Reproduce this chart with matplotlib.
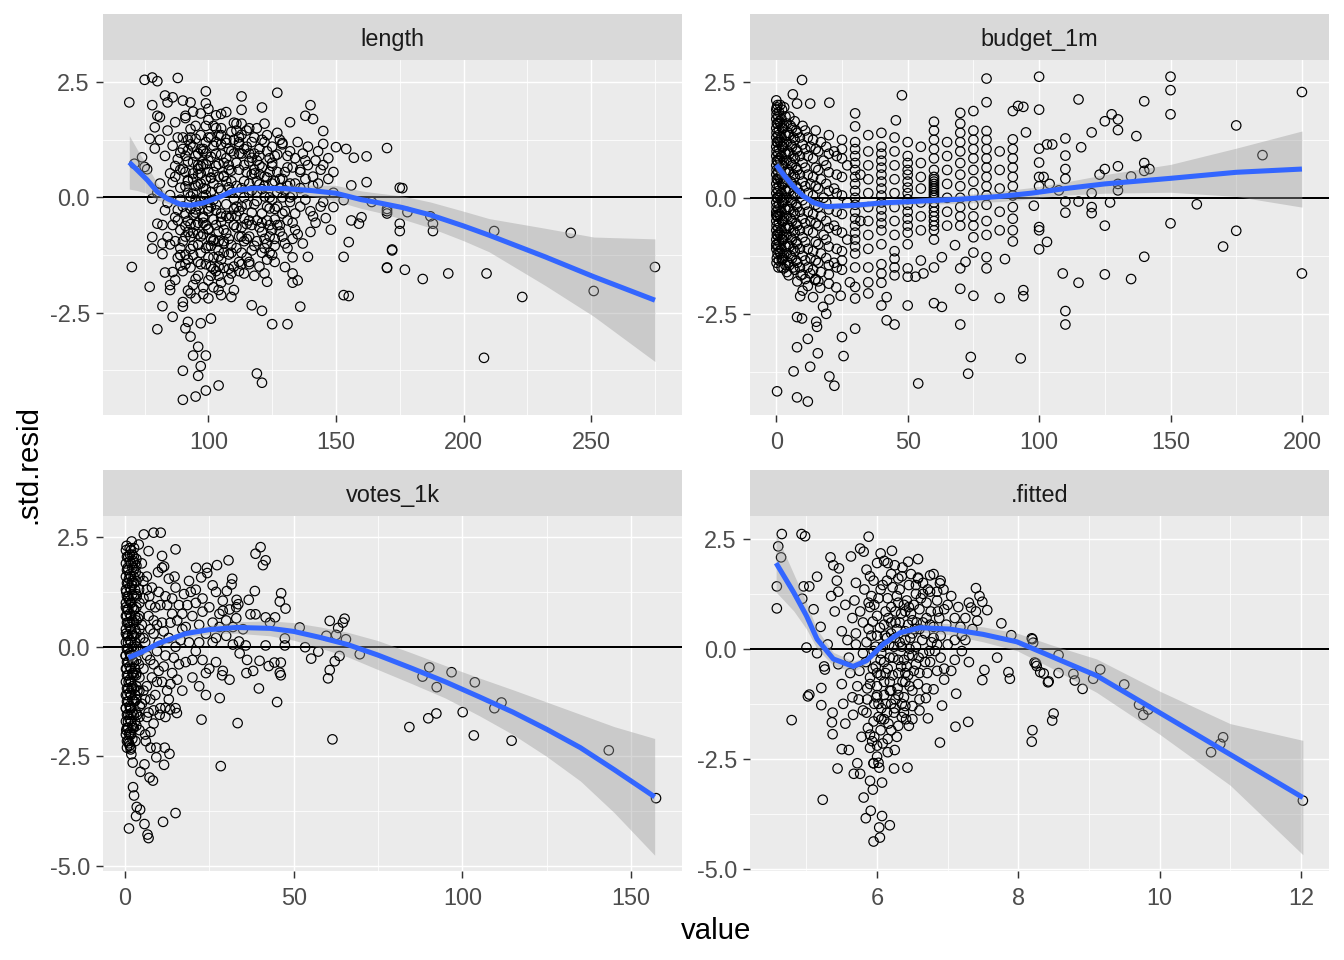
import numpy as np
import matplotlib
matplotlib.use("Agg")
import matplotlib.pyplot as plt

plt.rcParams["font.family"] = ["Liberation Sans", "DejaVu Sans"]
plt.rcParams["axes.unicode_minus"] = False

# ---- points: (value, std.resid) ----
length_pts = [
    (75, 2.55), (78, 2.6), (80, 2.52), (88, 2.59), (69, 2.06), (78, 2.0), (99, 2.3), (113, 2.19), (127, 2.27), (140, 2.0),
    (121, 1.95), (141, 1.7), (145, 1.44), (170, 1.07), (162, 0.89), (157, 0.86), (154, 1.05), (150, 1.09), (162, 0.33), (175, 0.21),
    (70, -1.51), (77, -1.94), (80, -2.86), (90, -3.76), (90, -4.39), (95, -4.32), (99, -4.19), (104, -4.08), (96, -3.87), (97, -3.66),
    (99, -3.43), (94, -3.43), (96, -3.24), (93, -3.02), (91, -2.84), (92, -2.7), (97, -2.73), (101, -2.63), (86, -2.59), (119, -3.82),
    (121, -4.02), (117, -2.34), (121, -2.46), (125, -2.75), (131, -2.75), (136, -2.37), (133, -1.85), (135, -1.8), (139, -1.29), (153, -1.29),
    (155, -0.97), (153, -2.12), (155, -2.14), (170, -1.52), (172, -1.13), (170, -0.35), (175, -0.57), (175, -0.73), (156, -0.5), (159, -0.57),
    (160, -0.43), (153, -0.06), (156, 0.26), (164, -0.1), (149, -0.21), (141, -0.41), (130, -1.51), (133, -1.65), (123, -1.83), (122, -1.65),
    (116, -1.4), (110, -2.01), (109, -2.16), (105, -2.12), (104, -2.01), (100, -2.19), (95, -2.19), (93, -2.08), (90, -2.27), (90, -2.37),
    (82, -2.36), (85, -2.01), (85, -1.9), (83, -1.63), (82, -1.23), (78, -1.11), (78, -0.86), (80, -0.57), (78, -0.03), (83, -0.28),
    (71, 0.73), (74, 0.87), (75, 0.66), (76, 0.61), (79, 1.52), (77, 1.27), (79, 1.06), (80, 1.77), (81, 1.74), (83, 2.21),
    (84, 2.06), (86, 2.17), (90, 2.1), (93, 2.06), (91, 1.77), (99, 2.04), (100, 1.92), (105, 1.81), (113, 1.9), (132, 1.63),
    (138, 1.77), (145, 1.16), (176, 0.2), (170, -0.25), (170, -0.3), (178, -0.32), (188, -0.57), (188, -0.73), (187, -0.41), (172, -1.15),
    (170, -1.53), (177, -1.57), (184, -1.77), (194, -1.65), (209, -1.65), (212, -0.73), (223, -2.16), (208, -3.48), (242, -0.77), (251, -2.03),
    (275, -1.51),
    (84, 1.45), (86, 1.12), (88, 0.83), (85, 0.52), (89, 0.21), (84, -0.12), (87, -0.43), (89, -0.71), (85, -1.02), (88, -1.31),
    (86, -1.62), (87, 1.63), (89, 0.97), (86, 0.33), (88, -0.27), (84, -0.86), (89, -1.48), (87, -1.79), (90, 1.3), (90, -0.95),
    (85, 0.05), (87, 0.68), (89, -0.05), (86, -0.6), (81, 0.3), (82, -0.6), (83, 0.9), (81, 1.25), (82, -1.0), (80, 0.1),
    (91, 1.72), (93, 1.48), (95, 1.27), (92, 1.02), (94, 0.76), (96, 0.49), (91, 0.24), (93, 0.02), (95, -0.26), (92, -0.51),
    (94, -0.77), (96, -1.03), (91, -1.24), (93, -1.52), (95, -1.77), (92, -2.02), (94, 1.86), (96, 0.62), (91, -0.62), (93, -1.12),
    (95, 0.9), (92, 0.38), (94, -0.38), (96, -1.4), (93, 1.15), (95, -0.05), (91, 0.55), (94, -1.9),
    (97, 1.82), (99, 1.55), (101, 1.3), (98, 1.05), (100, 0.8), (102, 0.55), (97, 0.3), (99, 0.05), (101, -0.2), (98, -0.45),
    (100, -0.7), (102, -0.95), (97, -1.2), (99, -1.45), (101, -1.7), (98, -1.95), (100, 1.68), (102, 1.12), (97, 0.68), (99, -0.6),
    (101, -1.05), (98, 0.2), (100, -0.1), (102, -1.55), (99, 0.95), (101, 0.42), (97, -0.85), (100, -1.3),
    (103, 1.78), (105, 1.5), (107, 1.26), (109, 1.0), (104, 0.72), (106, 0.47), (108, 0.22), (110, -0.03), (103, -0.28), (105, -0.53),
    (107, -0.78), (109, -1.03), (104, -1.28), (106, -1.53), (108, -1.78), (110, 1.62), (103, 0.95), (105, 0.15), (107, -0.4), (109, -1.2),
    (104, 1.35), (106, -0.95), (108, 0.6), (110, -0.6), (103, -1.6), (107, 1.85), (109, 0.35), (105, -1.85),
    (111, 1.6), (113, 1.36), (115, 1.1), (117, 0.86), (112, 0.6), (114, 0.35), (116, 0.1), (118, -0.15), (111, -0.4), (113, -0.65),
    (115, -0.9), (117, -1.15), (112, -1.4), (114, -1.65), (116, 1.5), (118, 0.95), (111, 0.25), (113, -0.2), (115, -1.3), (117, 0.5),
    (112, 1.15), (114, -0.95), (116, -0.5), (118, -1.7),
    (119, 1.5), (121, 1.25), (123, 1.0), (125, 0.75), (120, 0.5), (122, 0.25), (124, 0.0), (126, -0.25), (119, -0.5), (121, -0.75),
    (123, -1.0), (125, -1.25), (120, -1.5), (122, 1.6), (124, 0.55), (126, 0.9), (119, 0.1), (121, -0.35), (123, -1.35), (125, 0.3),
    (120, 1.05), (122, -0.9), (124, -0.6), (126, -1.05),
    (127, 1.4), (129, 1.15), (131, 0.9), (133, 0.65), (128, 0.4), (130, 0.15), (132, -0.1), (134, -0.35), (127, -0.6), (129, -0.85),
    (131, -1.1), (133, -1.3), (128, 1.25), (130, 0.55), (132, 0.3), (134, 0.85), (127, -0.2), (129, 0.0), (131, -0.5), (133, -0.9),
    (135, 1.2), (137, 0.95), (139, 0.7), (141, 0.45), (136, 0.2), (138, -0.05), (140, -0.3), (142, -0.55), (135, -0.8), (137, -1.0),
    (139, 1.1), (141, 0.25), (136, 0.6), (138, 0.4), (140, -0.75), (142, 0.8),
    (143, 1.0), (145, 0.7), (147, 0.4), (149, 0.1), (144, -0.2), (146, -0.45), (148, -0.7), (143, 0.3), (145, -0.1), (147, 0.85),
    (149, 0.55), (144, 0.6),
    (88, 1.3), (90, 1.05), (92, 0.78), (94, 0.52), (96, 0.28), (98, 0.02), (100, -0.24), (102, -0.48), (104, -0.74), (106, -1.0),
    (108, -1.24), (110, -1.5), (89, -1.1), (91, -0.85), (93, -0.58), (95, -0.33), (97, -0.08), (99, 0.18), (101, 0.43), (103, 0.68),
    (105, 0.93), (107, 1.18), (109, 1.42), (112, 1.3), (114, 1.05), (116, 0.78), (118, 0.52), (120, 0.28), (122, 0.02), (124, -0.24),
    (126, -0.48), (128, -0.74), (130, -1.0), (111, -1.1), (113, -0.85), (115, -0.58), (117, -0.33), (119, -0.08), (121, 0.18), (123, 0.43),
    (125, 0.68), (127, 0.93), (129, 1.18), (88, -0.5), (90, -0.2), (92, 0.1), (94, 0.4), (96, 0.7), (98, 1.0), (100, 1.3),
    (102, 1.55), (104, -1.5), (106, -1.2), (108, -0.9), (110, -0.6), (112, -0.3), (114, 0.0), (116, 0.3), (118, 0.6), (120, 0.9),
    (122, 1.2), (90, -1.6), (92, -1.35), (94, -1.05), (96, -0.8), (98, -0.55), (100, -0.3), (102, -0.05), (104, 0.2), (106, 0.45),
    (108, 0.7), (110, 0.95), (112, 1.2), (124, -1.2), (126, -0.9), (128, -0.6), (130, -0.3), (132, 0.0), (134, 0.3), (136, 0.55),
    (138, 0.8), (132, 1.0), (128, 0.2), (134, -0.7), (136, -0.2), (87, 0.45), (89, 0.6), (91, 0.9), (93, 1.3), (95, 1.55),
    (97, 1.05), (99, 0.72), (101, 0.88), (103, 1.2), (105, 1.35), (107, 0.85), (109, 0.58), (111, 0.75), (113, 0.95), (115, 1.45),
    (117, 1.2), (119, 0.8), (121, 0.65), (123, 1.35), (125, 1.1), (87, -0.95), (89, -1.25), (91, -1.45), (93, -0.25), (95, -0.6),
    (97, -1.45), (99, -1.1), (101, -0.9), (103, -0.6), (105, -0.35), (107, -0.15), (109, -0.4), (111, -0.2), (113, 0.2), (115, -0.15),
    (117, -0.6), (119, -0.95), (121, -1.2), (123, -0.5), (125, -0.05), (127, 0.55), (129, 0.4), (131, 0.25), (133, 0.05),
    (96, -1.7), (100, -1.8), (104, -1.7), (108, -1.55), (112, -1.6), (116, -1.45), (98, -2.1), (102, -1.95),
    (90, 0.62), (92, 0.35), (94, 0.08), (96, -0.18), (98, -0.42), (100, -0.68), (102, -0.92), (104, -1.15), (91, -0.35), (93, -0.85),
    (95, 0.25), (97, 0.52), (99, 0.38), (101, 0.12), (103, -0.15), (105, -0.42), (107, 0.35), (109, 0.12), (111, -0.65), (113, -1.2),
    (115, 0.55), (117, 0.15), (119, 0.35), (121, -0.55), (123, -0.2), (125, -0.7), (127, 0.1), (129, -0.35), (131, 0.65), (133, -0.55),
    (92, 1.25), (94, 1.1), (96, 0.95), (98, 0.72), (100, 0.55), (102, 0.3), (104, 0.45), (106, 0.75), (108, 1.05), (110, 1.25),
    (112, 0.95), (114, 0.7), (116, 0.95), (118, 1.3), (120, 0.7), (122, 0.45), (124, 0.85), (126, 0.35),
    (92, -0.75), (94, -1.25), (96, -0.55), (98, -0.8), (100, -1.05), (102, -1.3), (104, -0.95), (106, -0.7), (108, -0.45), (110, -0.25),
    (112, -0.85), (114, -0.45), (116, -0.85), (118, -1.05), (120, -0.65), (122, -1.1), (124, -0.85), (126, -1.4),
    (97, 1.35), (99, 1.2), (103, 1.5), (105, 1.15), (111, 1.45), (113, 1.6), (101, -1.5), (105, -1.35), (109, -1.65), (113, -1.45),
]

budget_pts = [
    (9.8, 2.54), (6.3, 2.23), (7.9, 2.03), (12.9, 2.03), (20.2, 2.05), (47.8, 2.21), (30, 1.82), (45.5, 1.67), (80, 2.57), (80, 2.06),
    (75, 1.87), (70, 1.83), (100, 2.61), (100, 1.9), (90, 1.87), (92, 1.98), (94, 1.96), (95, 1.41),
    (0.3, -4.17), (7.9, -4.3), (12, -4.39), (6.6, -3.74), (12.9, -3.64), (7.9, -3.22), (15.8, -3.35), (12, -3.04), (20.2, -3.85), (22.1, -4.05),
    (25.6, -3.41), (25, -3.0), (30, -2.82), (7.9, -2.57), (9.8, -2.6), (15.5, -2.78), (15.2, -2.67), (19, -2.5), (17.8, -2.35), (42, -2.64),
    (45, -2.73), (54, -4.0), (40, -2.32), (42, -2.14), (50, -2.32), (60, -2.27), (63, -2.35), (70, -2.73), (73, -3.79), (74, -3.43),
    (75, -2.11), (70, -1.96), (85, -2.16), (94, -1.99), (94, -2.12), (93, -3.46), (87, -1.32), (80, -1.28), (80, -1.52), (75, -1.18),
    (72, -1.38), (70, -1.52), (68, -1.02), (63, -1.28), (60, -1.5), (56, -1.63), (53, -1.7), (50, -1.52), (50, -1.7), (55, -1.35),
    (45, -1.67), (45, -1.5), (45, -1.31), (45, -1.15), (40, -1.83), (40, -1.63), (40, -1.43), (35, -2.06), (35, -1.82), (35, -1.5),
    (30, -2.17), (30, -1.92), (28, -1.82), (24.5, -2.11), (22.8, -1.93), (20.2, -2.19), (16.7, -1.94), (14, -2.14), (9.1, -2.12), (9.3, -1.67),
    (12.9, -1.63), (14.8, -1.77), (4.7, -1.67), (2.8, -1.52), (2.1, -1.34), (0, -1.02), (0, -0.37),
    (115, 2.12), (140, 2.08), (150, 2.61), (150, 2.32), (150, 1.8), (127.6, 1.8), (125, 1.65), (130, 1.69), (130, 1.46), (120, 1.41),
    (137, 1.33), (110, 1.28), (103, 1.15), (105, 1.15), (116, 1.09), (100, 1.06), (110, 0.91), (100, 0.76), (110, 0.62), (130, 0.68),
    (140, 0.75), (142, 0.62), (140, 0.58), (125, 0.62), (123, 0.5), (135, 0.46), (130, 0.3), (130, 0.16), (120, 0.1), (110, 0.41),
    (101.7, 0.45), (100, 0.45), (104, 0.3), (100, 0.25), (107.5, 0.16), (98, -0.17), (110, -0.08), (115, -0.08), (110, -0.32), (120, -0.2),
    (120, -0.33), (127, -0.1), (160, -0.14), (100, -0.63), (100, -0.7), (103, -0.95), (100, -1.11), (125, -0.6), (150, -0.55), (175, -0.71),
    (170, -1.05), (175, 1.56), (185, 0.92), (200, 2.28), (200, -1.63), (140, -1.27), (109, -1.63), (115, -1.83), (125, -1.65), (135, -1.75),
    (110, -2.44), (110, -2.73),
    (0, 2.1), (0, 1.9), (0, 1.7), (0, 1.5), (0, 1.3), (0, 1.1), (0, 0.9), (0, 0.7), (0, 0.5), (0, 0.3),
    (0, 0.1), (0, -0.1), (0, -0.3), (0, -0.5), (0, -0.7), (0, -0.9), (0, -1.1),
    (0.5, 2.0), (0.5, 1.6), (0.5, 1.2), (0.5, 0.8), (0.5, 0.4), (0.5, 0.0), (0.5, -0.4), (0.5, -0.8), (0.5, -1.2),
    (1, 1.85), (1, 1.45), (1, 1.05), (1, 0.65), (1, 0.25), (1, -0.15), (1, -0.55), (1, -0.95), (1, -1.35),
    (2, 1.7), (2, 1.3), (2, 0.9), (2, 0.5), (2, 0.1), (2, -0.3), (2, -0.7), (2, -1.1), (2, -1.5),
    (3, 1.95), (3, 1.55), (3, 1.15), (3, 0.75), (3, 0.35), (3, -0.05), (3, -0.45), (3, -0.85), (3, -1.25),
    (4, 1.6), (4, 1.2), (4, 0.8), (4, 0.4), (4, 0.0), (4, -0.4), (4, -0.8), (4, -1.2), (4, -1.6),
    (5, 1.75), (5, 1.35), (5, 0.95), (5, 0.55), (5, 0.15), (5, -0.25), (5, -0.65), (5, -1.05), (5, -1.45),
    (6, 1.5), (6, 1.1), (6, 0.7), (6, 0.3), (6, -0.1), (6, -0.5), (6, -0.9), (6, -1.3),
    (7, 1.65), (7, 1.25), (7, 0.85), (7, 0.45), (7, 0.05), (7, -0.35), (7, -0.75), (7, -1.15), (7, -1.55),
    (8, 1.4), (8, 1.0), (8, 0.6), (8, 0.2), (8, -0.2), (8, -0.6), (8, -1.0), (8, -1.4), (8, -1.8),
    (10, 1.55), (10, 1.15), (10, 0.75), (10, 0.35), (10, -0.05), (10, -0.45), (10, -0.85), (10, -1.25), (10, -1.65), (10, -2.0),
    (12, 1.3), (12, 0.9), (12, 0.5), (12, 0.1), (12, -0.3), (12, -0.7), (12, -1.1), (12, -1.5), (12, -1.9),
    (13, 1.1), (13, 0.3), (13, -0.5), (13, -1.3),
    (15, 1.45), (15, 1.05), (15, 0.65), (15, 0.25), (15, -0.15), (15, -0.55), (15, -0.95), (15, -1.35), (15, -1.75),
    (17, 1.2), (17, 0.4), (17, -0.4), (17, -1.2), (17, -1.6), (18, 0.8), (18, 0.0), (18, -0.8),
    (20, 1.35), (20, 0.95), (20, 0.55), (20, 0.15), (20, -0.25), (20, -0.65), (20, -1.05), (20, -1.45), (20, -1.85),
    (22, 1.0), (22, 0.2), (22, -0.6), (22, -1.4),
    (25, 1.25), (25, 0.85), (25, 0.45), (25, 0.05), (25, -0.35), (25, -0.75), (25, -1.15), (25, -1.55),
    (27, 0.7), (27, -0.1), (27, -0.9), (32, 0.5), (32, -0.5),
    (30, 1.54), (30, 1.2), (30, 0.9), (30, 0.6), (30, 0.3), (30, 0.0), (30, -0.3), (30, -0.6), (30, -0.9), (30, -1.2), (30, -1.5),
    (35, 1.35), (35, 1.0), (35, 0.7), (35, 0.4), (35, 0.1), (35, -0.2), (35, -0.5), (35, -0.8), (35, -1.1),
    (40, 1.4), (40, 1.1), (40, 0.8), (40, 0.5), (40, 0.2), (40, -0.1), (40, -0.4), (40, -0.7), (40, -1.0),
    (45, 1.3), (45, 1.0), (45, 0.7), (45, 0.4), (45, 0.1), (45, -0.2), (45, -0.5), (45, -0.8),
    (50, 1.2), (50, 0.9), (50, 0.6), (50, 0.35), (50, 0.1), (50, -0.15), (50, -0.45), (50, -0.75), (50, -1.0),
    (55, 1.1), (55, 0.75), (55, 0.45), (55, 0.2), (55, -0.1), (55, -0.4), (55, -0.7),
    (60, 1.64), (60, 1.45), (60, 1.25), (60, 1.05), (60, 0.85), (60, 0.6), (60, 0.45), (60, 0.35), (60, 0.25), (60, 0.15),
    (60, 0.05), (60, -0.1), (60, -0.3), (60, -0.5), (60, -0.7), (60, -0.9),
    (65, 1.2), (65, 0.9), (65, 0.6), (65, 0.3), (65, 0.0), (65, -0.3), (65, -0.6),
    (70, 1.6), (70, 1.4), (70, 1.2), (70, 1.0), (70, 0.75), (70, 0.5), (70, 0.25), (70, 0.0), (70, -0.2), (70, -0.4), (70, -0.6),
    (75, 1.45), (75, 1.25), (75, 1.05), (75, 0.85), (75, 0.6), (75, 0.35), (75, 0.1), (75, -0.15), (75, -0.4), (75, -0.6), (75, -0.85),
    (80, 1.44), (80, 1.25), (80, 1.05), (80, 0.85), (80, 0.65), (80, 0.45), (80, 0.25), (80, 0.05), (80, -0.15), (80, -0.5), (80, -0.8),
    (85, 1.0), (85, 0.6), (85, 0.2), (85, -0.3), (85, -0.7),
    (90, 1.26), (90, 1.05), (90, 0.85), (90, 0.65), (90, 0.45), (90, 0.25), (90, 0.05), (90, -0.2), (90, -0.45), (90, -0.7), (90, -0.94),
    (0.2, 1.95), (0.2, 1.6), (0.2, 1.2), (0.2, 0.8), (0.2, 0.4), (0.2, 0.0), (0.2, -0.4), (0.2, -0.8), (0.2, -1.3),
    (0.8, 1.75), (0.8, 1.35), (0.8, 0.95), (0.8, 0.55), (0.8, 0.15), (0.8, -0.25), (0.8, -0.65), (0.8, -1.05), (0.8, -1.5),
    (1.5, 2.0), (1.5, 1.6), (1.5, 1.2), (1.5, 0.8), (1.5, 0.4), (1.5, 0.0), (1.5, -0.4), (1.5, -0.8), (1.5, -1.2),
    (2.5, 1.5), (2.5, 1.1), (2.5, 0.7), (2.5, 0.3), (2.5, -0.1), (2.5, -0.5), (2.5, -0.9), (2.5, -1.3),
    (3.5, 1.75), (3.5, 1.35), (3.5, 0.95), (3.5, 0.55), (3.5, 0.15), (3.5, -0.25), (3.5, -0.65), (3.5, -1.05), (3.5, -1.45),
    (4.5, 1.4), (4.5, 1.0), (4.5, 0.6), (4.5, 0.2), (4.5, -0.2), (4.5, -0.6), (4.5, -1.0), (4.5, -1.4),
    (6.5, 1.3), (6.5, 0.9), (6.5, 0.5), (6.5, 0.1), (6.5, -0.3), (6.5, -0.7), (6.5, -1.1), (6.5, -1.5),
    (9, 1.3), (9, 0.9), (9, 0.5), (9, 0.1), (9, -0.3), (9, -0.7), (9, -1.1), (9, -1.5),
    (11, 1.45), (11, 1.05), (11, 0.65), (11, 0.25), (11, -0.15), (11, -0.55), (11, -0.95), (11, -1.35), (11, -1.75),
    (14, 1.25), (14, 0.85), (14, 0.45), (14, 0.05), (14, -0.35), (14, -0.75), (14, -1.15), (14, -1.55),
    (16, 1.0), (16, 0.6), (16, 0.2), (16, -0.2), (16, -0.6), (16, -1.0), (16, -1.4), (16, -1.8),
    (19, 1.1), (19, 0.7), (19, 0.3), (19, -0.1), (19, -0.5), (19, -0.9), (19, -1.3),
    (23, 0.9), (23, 0.5), (23, 0.1), (23, -0.3), (23, -0.7), (23, -1.1), (23, -1.5),
    (30, 1.05), (30, 0.75), (30, 0.45), (30, 0.15), (30, -0.15), (30, -0.45), (30, -0.75), (30, -1.05),
    (40, 0.95), (40, 0.65), (40, 0.35), (40, 0.05), (40, -0.25), (40, -0.55),
    (50, 0.75), (50, 0.5), (50, 0.22), (50, -0.03), (50, -0.3), (50, -0.6),
    (60, 0.4), (60, 0.3), (60, 0.2), (60, 0.1), (60, 0.0), (60, -0.2), (60, -0.4), (60, -0.6),
    (20, -1.65), (25, -1.35), (25, 1.05),
    (0.1, 1.8), (0.1, 1.4), (0.1, 1.0), (0.1, 0.6), (0.1, 0.2), (0.1, -0.2), (0.1, -0.6), (0.1, -1.0), (0.1, -1.4),
    (1.2, 1.65), (1.2, 1.25), (1.2, 0.85), (1.2, 0.45), (1.2, 0.05), (1.2, -0.35), (1.2, -0.75), (1.2, -1.15),
    (2.2, 1.9), (2.2, 1.5), (2.2, 1.1), (2.2, 0.7), (2.2, 0.3), (2.2, -0.1), (2.2, -0.5), (2.2, -0.9), (2.2, -1.3),
    (5.5, 1.55), (5.5, 1.15), (5.5, 0.75), (5.5, 0.35), (5.5, -0.05), (5.5, -0.45), (5.5, -0.85), (5.5, -1.25),
    (7.5, 1.45), (7.5, 1.05), (7.5, 0.65), (7.5, 0.25), (7.5, -0.15), (7.5, -0.55), (7.5, -0.95), (7.5, -1.35),
]

votes_pts = [
    (5.6, 2.56), (8.5, 2.6), (10.6, 2.6), (4.1, 2.33), (7, 2.18), (15, 2.22), (11, 2.07), (11.6, 1.83), (14.7, 1.6), (21.1, 1.8),
    (24.3, 1.8), (27.3, 1.86), (30.7, 1.97), (24.4, 1.68), (22.6, 1.58), (40.2, 2.27), (38.7, 2.12), (41.7, 1.97), (40.9, 1.86), (31.8, 1.55),
    (31.6, 1.42), (30.2, 1.27), (38.5, 1.27), (36.7, 1.07), (33.1, 1.07), (33.6, 0.97), (46.3, 1.22), (45.9, 1.03), (47.6, 0.87), (38.7, 0.74),
    (37.2, 0.74), (41.7, 0.67), (44.5, 0.67), (43, 0.55), (29, 0.82), (60.7, 0.59), (65.1, 0.64), (64.6, 0.55), (63.2, 0.43), (51.8, 0.44),
    (59.7, 0.25), (62.6, 0.27), (65.5, 0.17), (47.4, 0.19), (47.4, 0.03), (53.4, -0.01), (57.3, -0.11), (55.2, -0.27), (69.6, -0.17), (63.6, -0.21),
    (62.2, -0.33), (60.7, -0.53), (60.2, -0.72), (41.7, 0.03), (35.8, 0.03), (33.8, 0.12), (36.2, -0.3), (39.9, -0.32), (42.6, -0.44), (44.3, -0.36),
    (46.2, -0.36), (45.9, -0.59), (46.2, -0.65), (38, -0.55), (36, -0.6), (28.8, -0.65), (39.7, -0.95), (45.1, -1.26), (28.1, -1.17), (22.7, -1.66),
    (33.4, -1.74), (28.4, -2.72), (61.5, -2.11), (13.2, -2.44), (11.6, -2.69), (11.8, -2.3), (9.3, -2.52), (8.3, -3.05), (7.3, -2.98), (5.8, -2.68),
    (4.6, -2.85), (2.3, -2.64), (1.7, -2.34), (2.4, -3.2), (2.7, -3.39), (3.5, -3.65), (4.5, -3.71), (3.3, -3.86), (15, -3.79), (11.3, -3.99),
    (1.2, -4.14), (5.8, -4.04), (6.7, -4.28), (7.0, -4.36), (7.6, -2.3), (6.2, -2.15), (7.6, -1.94), (9.3, -2.3), (10.3, -1.55), (12, -1.39),
    (15.4, -1.51), (13.4, -1.43),
    (90.2, -0.47), (88.2, -0.68), (96.8, -0.58), (92.4, -0.92), (103.7, -0.81), (111.6, -1.27), (109.5, -1.4), (100.1, -1.49), (92.3, -1.52), (89.9, -1.63),
    (84.3, -1.83), (103.4, -2.02), (114.6, -2.14), (143.4, -2.36), (157.4, -3.45),
    (0.5, 2.3), (1.5, 2.1), (2.5, 1.95), (0.8, 1.8), (3.2, 1.7), (1.2, 1.55), (2.1, 1.4), (0.4, 1.25), (3.5, 1.15), (1.8, 1.0),
    (2.8, 0.85), (0.6, 0.7), (1.4, 0.55), (3.0, 0.4), (2.2, 0.25), (0.9, 0.1), (3.8, -0.05), (1.6, -0.2), (2.6, -0.35), (0.5, -0.5),
    (3.3, -0.65), (1.1, -0.8), (2.0, -0.95), (0.7, -1.1), (2.9, -1.25), (1.5, -1.4), (3.6, -1.55), (0.9, -1.7), (2.3, -1.85), (1.3, -2.0),
    (3.1, -2.15), (0.6, -2.3), (1.9, -2.45), (2.7, 2.25), (1.0, 1.1), (3.9, 0.65), (0.3, 0.3), (2.4, -0.6), (3.7, -1.0), (1.7, -1.55),
    (0.4, -1.9), (2.6, 1.6), (4.2, 1.3), (4.5, 0.2), (4.1, -0.4), (4.4, -1.35), (0.2, -0.2), (0.3, 0.9), (0.3, -1.4), (1.2, -2.2),
    (2.0, 2.4), (3.4, 2.0),
    (5, 1.9), (6.5, 1.6), (8, 1.35), (5.5, 1.1), (9, 0.9), (7, 0.7), (5, 0.5), (8.5, 0.3), (6, 0.1), (9.5, -0.1),
    (7.5, -0.3), (5.5, -0.5), (8, -0.7), (6.5, -0.9), (9, -1.1), (5, -1.3), (7, -1.5), (8.5, -1.75), (6, -2.0), (9.8, 1.7),
    (7.2, 1.15), (6, -1.2), (9.5, 0.5),
    (11, 1.8), (13, 1.55), (15, 1.35), (12, 1.15), (16, 0.95), (14, 0.75), (11, 0.55), (17, 0.4), (13, 0.2), (15, 0.0),
    (12, -0.2), (16, -0.4), (14, -0.6), (11, -0.8), (17, -1.0), (13, -1.2), (15, -1.4), (12, -1.6), (10.5, 0.95), (17.5, 1.2),
    (14.5, -0.25), (10.5, -1.4),
    (19, 1.5), (21, 1.3), (23, 1.1), (25, 0.9), (20, 0.7), (22, 0.5), (24, 0.3), (19, 0.1), (21, -0.1), (23, -0.3),
    (25, -0.5), (20, -0.7), (22, -0.9), (24, -1.1), (26, 1.4), (18.5, 0.95), (26, 0.1), (21, 1.0),
    (27, 1.25), (29, 1.05), (31, 0.85), (33, 0.65), (28, 0.45), (30, 0.25), (32, 0.05), (34, -0.15), (27, -0.35), (29, -0.55),
    (31, -0.75), (33, 0.9), (35, 0.4), (28, 0.75),
    (0.3, 2.2), (0.3, 1.9), (0.3, 1.6), (0.3, 1.3), (0.3, 1.0), (0.3, 0.7), (0.3, 0.4), (0.3, 0.1), (0.3, -0.2), (0.3, -0.5),
    (0.3, -0.8), (0.3, -1.1), (0.3, -1.4), (0.3, -1.7), (0.3, -2.0),
    (1.0, 2.05), (1.0, 1.75), (1.0, 1.45), (1.0, 1.15), (1.0, 0.85), (1.0, 0.55), (1.0, 0.25), (1.0, -0.05), (1.0, -0.35), (1.0, -0.65),
    (1.0, -0.95), (1.0, -1.25), (1.0, -1.55), (1.0, -1.85), (1.0, -2.15),
    (1.8, 2.2), (1.8, 1.9), (1.8, 1.6), (1.8, 1.3), (1.8, 1.0), (1.8, 0.7), (1.8, 0.4), (1.8, 0.1), (1.8, -0.2), (1.8, -0.5),
    (1.8, -0.8), (1.8, -1.1), (1.8, -1.4), (1.8, -1.7), (1.8, -2.0), (1.8, -2.3),
    (2.6, 2.05), (2.6, 1.75), (2.6, 1.45), (2.6, 1.15), (2.6, 0.85), (2.6, 0.55), (2.6, 0.25), (2.6, -0.05), (2.6, -0.35), (2.6, -0.65),
    (2.6, -0.95), (2.6, -1.25), (2.6, -1.55), (2.6, -1.85),
    (3.4, 1.85), (3.4, 1.5), (3.4, 1.2), (3.4, 0.9), (3.4, 0.6), (3.4, 0.3), (3.4, 0.0), (3.4, -0.3), (3.4, -0.6), (3.4, -0.9),
    (3.4, -1.2), (3.4, -1.5), (3.4, -1.8),
    (4.3, 1.6), (4.3, 1.0), (4.3, 0.7), (4.3, 0.4), (4.3, -0.1), (4.3, -0.7), (4.3, -1.0), (4.3, -1.6), (4.3, -1.9),
    (5.5, 1.5), (6.5, 1.3), (7.5, 0.95), (8.5, 0.6), (5.5, 0.2), (6.5, -0.2), (7.5, 0.4), (8.5, -0.4), (9.5, -0.8), (5.5, -1.0),
    (6.5, -1.6), (7.5, -1.2), (8.5, -1.45), (10, 1.25), (10, 0.1), (10, -0.55), (11.5, 0.35), (11.5, -0.45), (12.5, 0.95), (12.5, -1.0),
    (13.5, 0.55), (13.5, -0.85), (14, 1.1), (15.5, 0.6), (15.5, -0.75), (16.5, 0.15), (17, 0.75), (18, -0.35), (18, 0.45), (19.5, 1.25),
    (20, -0.3), (22, 0.1), (23, 0.8), (24, -0.6), (26, 0.55), (30, 0.6), (32, 0.45), (27, 0.2),
    (0.6, 2.05), (0.6, 1.75), (0.6, 1.45), (0.6, 1.15), (0.6, 0.85), (0.6, 0.55), (0.6, 0.25), (0.6, -0.05), (0.6, -0.35), (0.6, -0.65),
    (0.6, -0.95), (0.6, -1.25), (0.6, -1.55), (0.6, -1.85), (0.6, -2.15),
    (1.4, 2.25), (1.4, 1.95), (1.4, 1.65), (1.4, 1.35), (1.4, 1.05), (1.4, 0.75), (1.4, 0.45), (1.4, 0.15), (1.4, -0.15), (1.4, -0.45),
    (1.4, -0.75), (1.4, -1.05), (1.4, -1.35), (1.4, -1.65), (1.4, -1.95), (1.4, -2.25),
    (2.2, 2.1), (2.2, 1.8), (2.2, 1.5), (2.2, 1.2), (2.2, 0.9), (2.2, 0.6), (2.2, 0.3), (2.2, 0.0), (2.2, -0.3), (2.2, -0.6),
    (2.2, -0.9), (2.2, -1.2), (2.2, -1.5), (2.2, -1.8), (2.2, -2.1),
    (3.0, 1.9), (3.0, 1.3), (3.0, 0.7), (3.0, 0.1), (3.0, -0.5), (3.0, -1.1), (3.0, -1.7),
]

fitted_pts = [
    (4.65, 2.61), (4.93, 2.61), (4.98, 2.56), (4.6, 2.33), (4.64, 2.08), (4.58, 1.42), (4.58, 0.92), (4.79, -1.62), (5.0, 0.03), (4.96, 1.42),
    (5.04, 1.42), (4.94, 1.14), (5.15, 1.64), (5.34, 2.08), (5.38, 1.9), (5.46, 1.83), (5.43, 1.55), (5.63, 2.1), (5.88, 2.55), (5.76, 2.28),
    (5.81, 2.21), (6.21, 2.23), (6.05, 2.17), (6.44, 1.98), (6.58, 2.04), (6.58, 1.62), (6.75, 1.67), (6.89, 1.49), (7.4, 1.38), (7.45, 1.2),
    (7.49, 1.07), (7.56, 0.88), (7.33, 0.94), (7.76, 0.58), (7.42, 0.64), (7.9, 0.31), (7.7, -0.2), (7.52, -0.48), (7.49, -0.71), (7.86, -0.53),
    (7.88, -0.68), (8.19, 0.24), (8.25, -0.33), (8.36, -0.56), (8.42, -0.76), (7.12, -1.02), (6.8, -0.92), (6.69, -1.12), (6.92, -1.29), (6.72, -1.58),
    (7.11, -1.77), (7.29, -1.66), (6.89, -2.13), (8.2, -1.85), (8.19, -2.11), (6.43, -2.7), (6.24, -2.72), (6.07, -3.04), (5.9, -3.0), (5.94, -3.2),
    (5.81, -3.38), (5.23, -3.43), (5.44, -2.72), (5.67, -2.84), (5.76, -2.84), (5.72, -2.6), (5.95, -2.6), (6.02, -2.59), (5.91, -3.68), (5.84, -3.85),
    (6.07, -3.8), (6.18, -4.01), (6.03, -4.06), (6.04, -4.29), (5.95, -4.38), (5.37, -1.94), (5.5, -2.28), (5.21, -1.28), (5.04, -1.04), (5.02, -1.08),
    (5.21, -0.89), (5.36, -1.67), (5.37, -1.45), (5.26, -0.47),
    (8.2, 0.22), (8.21, 0.14), (8.23, -0.31), (8.26, -0.39), (8.31, -0.53), (8.43, -0.74), (8.57, -0.14), (8.57, -0.55), (8.78, -0.57), (8.8, -0.72),
    (8.91, -0.91), (9.06, -0.68), (9.16, -0.47), (9.5, -0.81), (9.71, -1.27), (9.77, -1.5), (9.84, -1.38), (8.5, -1.47), (8.48, -1.63), (10.9, -2.01),
    (10.86, -2.16), (10.73, -2.35), (12.03, -3.45),
    (5.45, 1.3), (5.55, 1.0), (5.65, 0.7), (5.5, 0.4), (5.7, 0.1), (5.6, -0.2), (5.75, -0.5), (5.5, -0.8), (5.65, -1.1), (5.8, -1.4),
    (5.55, -1.7), (5.7, 1.5), (5.4, 0.85), (5.8, 0.6), (5.45, -0.35), (5.78, -2.0), (5.6, -2.3),
    (5.85, 1.8), (5.95, 1.55), (6.05, 1.35), (6.15, 1.15), (5.9, 0.95), (6.0, 0.75), (6.1, 0.55), (6.2, 0.35), (5.85, 0.15), (5.95, -0.05),
    (6.05, -0.25), (6.15, -0.45), (5.9, -0.65), (6.0, -0.85), (6.1, -1.05), (6.2, -1.25), (5.85, -1.45), (5.95, -1.65), (6.05, -1.85), (6.15, -2.05),
    (5.9, -2.25), (6.0, -2.45), (6.1, 2.0), (5.92, 1.2), (6.12, 0.85), (5.88, 0.45), (6.08, 0.05), (5.98, -0.4), (6.18, -0.75), (5.86, -1.15),
    (6.06, -1.35), (6.16, -1.7), (5.96, -2.0), (6.2, 1.7), (6.03, -2.7),
    (6.25, 1.9), (6.35, 1.65), (6.45, 1.45), (6.55, 1.25), (6.3, 1.05), (6.4, 0.85), (6.5, 0.65), (6.6, 0.45), (6.25, 0.25), (6.35, 0.05),
    (6.45, -0.15), (6.55, -0.35), (6.3, -0.55), (6.4, -0.75), (6.5, -0.95), (6.6, -1.15), (6.25, -1.35), (6.35, -1.55), (6.45, -1.75), (6.28, -2.0),
    (6.52, 1.0), (6.32, 0.6), (6.42, -0.4), (6.58, 1.6), (6.38, -1.1),
    (6.65, 1.5), (6.75, 1.3), (6.85, 1.1), (6.95, 0.9), (6.7, 0.7), (6.8, 0.5), (6.9, 0.3), (7.0, 0.1), (6.65, -0.1), (6.75, -0.3),
    (6.85, -0.5), (6.95, -0.7), (6.7, -0.9), (6.8, 1.7), (6.9, -0.2), (6.68, 0.35), (6.98, 0.55),
    (7.05, 1.2), (7.15, 0.95), (7.25, 0.7), (7.35, 0.45), (7.1, 0.2), (7.2, -0.05), (7.3, -0.3), (7.05, -0.5), (7.4, 0.85), (7.18, 0.5),
    (5.1, 0.9), (5.2, 0.5), (5.3, 0.1), (5.25, -0.4), (5.35, 1.2), (5.15, -0.1),
    (5.82, 1.35), (5.88, 1.05), (5.94, 0.62), (6.0, 0.3), (6.06, -0.1), (6.12, -0.55), (6.18, -0.95), (6.24, -1.45), (5.84, -0.3), (5.9, -0.8),
    (5.96, -1.25), (6.02, -1.55), (6.08, -2.15), (6.14, 1.55), (6.2, 0.95), (6.26, 0.6), (6.32, 0.15), (6.38, -0.25), (6.44, -0.6), (6.5, -1.3),
    (6.22, 1.4), (6.28, 1.2), (6.34, 0.8), (6.4, 0.4), (6.46, 0.0), (6.52, -0.5), (6.58, -0.8), (6.64, 0.2), (6.7, 1.05), (6.76, 0.85),
    (6.82, -0.05), (6.88, 0.7), (6.94, 1.35), (6.6, 0.9), (6.48, 1.7), (6.36, 1.85),
    (5.87, -1.8), (5.93, -2.1), (5.99, -1.1), (6.05, -0.6), (6.11, 0.3), (6.17, 0.1), (6.23, -0.2), (6.29, -0.9), (6.35, -1.25), (6.41, -1.6),
    (6.47, 0.25), (6.53, 0.45), (6.59, -0.2), (6.65, 0.6), (6.71, -0.55), (6.77, 0.15),
    (5.7, 0.35), (5.62, -0.55), (5.74, -1.15), (5.68, 1.1), (5.58, 0.2), (5.52, -1.25), (5.8, -0.1), (5.76, 0.85), (5.72, -0.85), (5.66, -1.5),
    (6.15, 1.95), (6.0, 1.95), (5.9, 1.65), (6.3, 1.6), (6.55, 1.45), (6.72, 1.35), (6.85, 1.3), (7.0, 1.0), (7.1, 0.7), (7.2, 0.3),
    (7.1, -0.25), (7.25, 0.2), (6.95, -0.45), (6.9, 1.55), (7.3, 1.05),
    (6.1, -1.6), (6.2, -1.85), (6.0, -2.2), (6.3, -1.75), (6.4, -1.3), (6.5, -1.6), (6.6, -1.4), (6.15, -2.35), (5.95, -2.6), (6.25, -2.3),
    (5.92, 0.3), (5.98, 0.05), (6.04, 0.48), (6.1, -0.3), (6.16, 0.7), (6.22, -0.6), (6.28, 0.45), (6.34, -0.4), (6.4, 0.2), (6.46, -0.85),
    (5.94, -0.45), (6.0, -1.05), (6.06, -1.6), (6.12, -1.25), (6.18, -0.2), (6.24, 0.05), (6.3, -1.05), (6.36, -0.75), (6.42, 1.1), (6.48, 0.8),
    (5.96, 1.0), (6.02, 1.15), (6.08, 1.45), (6.14, 0.25), (6.2, 0.6), (6.26, 0.85), (6.32, 1.35), (6.38, 1.0), (6.44, 0.55), (6.5, 0.35),
    (6.56, 0.6), (6.62, 1.15), (6.68, -0.3), (6.74, -0.05), (6.8, 0.25), (6.86, 0.85),
    (5.9, -1.95), (6.02, -1.25), (6.14, -1.45), (6.26, -1.15), (6.38, -1.45), (5.86, -0.9), (6.0, -0.55), (6.1, -0.75), (6.2, -0.95), (6.3, -0.25),
    (6.4, -0.55), (6.5, -0.15), (6.6, -0.55), (6.45, 0.95), (6.55, 0.05), (6.65, 1.25), (6.75, 0.55), (6.85, 0.1),
]

# ---- smoothers: x, fit, half width of the grey band ----
length_fit_x = [69, 72, 76, 80, 84, 89, 93, 98, 104, 110, 118, 130, 140, 150, 160, 167, 176, 187, 200, 210, 232, 251, 275]
length_fit_y = [0.76, 0.6, 0.38, 0.12, -0.03, -0.15, -0.17, -0.12, 0.0, 0.15, 0.2, 0.19, 0.15, 0.09, -0.05, -0.12, -0.22, -0.38,
                -0.62, -0.82, -1.29, -1.72, -2.23]
length_fit_se = [0.58, 0.45, 0.3, 0.18, 0.1, 0.07, 0.06, 0.05, 0.05, 0.05, 0.06, 0.08, 0.12, 0.17, 0.19, 0.21, 0.25, 0.28,
                 0.32, 0.36, 0.62, 0.86, 1.33]

budget_fit_x = [0, 3, 6, 10, 14, 19, 30, 40, 55, 70, 85, 97, 110, 125, 150, 175, 200]
budget_fit_y = [0.71, 0.48, 0.28, 0.05, -0.1, -0.19, -0.16, -0.11, -0.07, -0.03, 0.03, 0.1, 0.2, 0.3, 0.42, 0.55, 0.62]
budget_fit_se = [0.15, 0.12, 0.1, 0.08, 0.07, 0.07, 0.06, 0.06, 0.07, 0.09, 0.11, 0.12, 0.14, 0.2, 0.3, 0.52, 0.82]

votes_fit_x = [1, 5, 10, 18, 25, 33, 43, 50, 58, 66, 75, 85, 95, 105, 115, 125, 135, 145, 157]
votes_fit_y = [-0.25, -0.12, 0.08, 0.3, 0.39, 0.44, 0.42, 0.35, 0.21, 0.05, -0.19, -0.49, -0.8, -1.14, -1.49, -1.88, -2.3, -2.8, -3.42]
votes_fit_se = [0.12, 0.08, 0.07, 0.08, 0.1, 0.13, 0.17, 0.2, 0.24, 0.28, 0.33, 0.35, 0.37, 0.43, 0.51, 0.62, 0.76, 0.98, 1.33]

fitted_fit_x = [4.57, 4.82, 5.0, 5.15, 5.38, 5.66, 5.85, 6.09, 6.33, 6.61, 7.03, 7.5, 7.98, 8.45, 9.11, 10.0, 11.0, 12.03]
fitted_fit_y = [1.95, 1.28, 0.75, 0.22, -0.23, -0.4, -0.27, 0.11, 0.37, 0.48, 0.45, 0.33, 0.16, -0.16, -0.61, -1.45, -2.4, -3.38]
fitted_fit_se = [0.66, 0.42, 0.3, 0.22, 0.15, 0.12, 0.08, 0.06, 0.07, 0.1, 0.13, 0.17, 0.2, 0.26, 0.38, 0.49, 0.7, 1.3]

facet_names = ["length", "budget_1m", "votes_1k", ".fitted"]

W, H = 1344, 960
fig = plt.figure(figsize=(7, 5), dpi=192)


def box(l, t, r, b):
    return [l / W, 1 - b / H, (r - l) / W, (b - t) / H]


panels = [
    dict(pts=length_pts, fx=length_fit_x, fy=length_fit_y, fse=length_fit_se,
         rect=(103, 60, 682, 415), strip=(103, 14, 682, 60),
         xlim=(58.7, 285.6), ylim=(-4.72, 2.98),
         xt=[100, 150, 200, 250], xm=[75, 125, 175, 225, 275],
         yt=[-2.5, 0, 2.5], ym=[-3.75, -1.25, 1.25]),
    dict(pts=budget_pts, fx=budget_fit_x, fy=budget_fit_y, fse=budget_fit_se,
         rect=(750, 60, 1329, 415), strip=(750, 14, 1329, 60),
         xlim=(-10, 210.3), ylim=(-4.68, 2.97),
         xt=[0, 50, 100, 150, 200], xm=[25, 75, 125, 175],
         yt=[-2.5, 0, 2.5], ym=[-3.75, -1.25, 1.25]),
    dict(pts=votes_pts, fx=votes_fit_x, fy=votes_fit_y, fse=votes_fit_se,
         rect=(103, 516, 682, 871), strip=(103, 470, 682, 516),
         xlim=(-6.5, 165.1), ylim=(-5.11, 2.98),
         xt=[0, 50, 100, 150], xm=[25, 75, 125],
         yt=[-5, -2.5, 0, 2.5], ym=[-3.75, -1.25, 1.25]),
    dict(pts=fitted_pts, fx=fitted_fit_x, fy=fitted_fit_y, fse=fitted_fit_se,
         rect=(750, 516, 1329, 871), strip=(750, 470, 1329, 516),
         xlim=(4.2, 12.4), ylim=(-5.05, 3.02),
         xt=[6, 8, 10, 12], xm=[5, 7, 9, 11],
         yt=[-5, -2.5, 0, 2.5], ym=[-3.75, -1.25, 1.25]),
]

for name, p in zip(facet_names, panels):
    ax = fig.add_axes(box(*p["rect"]))
    ax.set_facecolor("#EBEBEB")
    for s in ax.spines.values():
        s.set_visible(False)
    ax.set_xlim(*p["xlim"])
    ax.set_ylim(*p["ylim"])
    ax.set_xticks(p["xt"])
    ax.set_xticklabels([str(v) for v in p["xt"]])
    ax.set_yticks(p["yt"])
    ax.set_yticklabels(["%.1f" % v for v in p["yt"]])
    ax.set_xticks(p["xm"], minor=True)
    ax.set_yticks(p["ym"], minor=True)
    ax.grid(which="major", color="white", linewidth=0.55)
    ax.grid(which="minor", color="white", linewidth=0.28)
    ax.set_axisbelow(True)
    ax.tick_params(which="major", length=2.75, width=0.55, color="#333333",
                   pad=2.2, labelsize=8.8, labelcolor="#4D4D4D")
    ax.tick_params(axis="x", which="major", pad=3.4)
    ax.tick_params(which="minor", length=0)

    xy = np.array(p["pts"])
    ax.scatter(xy[:, 0], xy[:, 1], s=12.5, facecolors="none", edgecolors="black",
               linewidths=0.45, zorder=2)
    ax.axhline(0, color="black", linewidth=0.75, zorder=3)
    fx = np.array(p["fx"])
    fy = np.array(p["fy"])
    fse = np.array(p["fse"])
    ax.fill_between(fx, fy - fse, fy + fse, color="#999999", alpha=0.4,
                    linewidth=0, zorder=4)
    ax.plot(fx, fy, color="#3366FF", linewidth=1.9, zorder=5,
            solid_capstyle="butt", solid_joinstyle="round")

    sx = fig.add_axes(box(*p["strip"]))
    sx.set_facecolor("#D9D9D9")
    sx.set_xticks([])
    sx.set_yticks([])
    for s in sx.spines.values():
        s.set_visible(False)
    sx.text(0.5, 0.44, name, ha="center", va="center", fontsize=8.8,
            color="#1A1A1A", transform=sx.transAxes)

fig.text(716 / W, 1 - 931 / H, "value", ha="center", va="center", fontsize=11)
fig.text(28 / W, 1 - 465 / H, ".std.resid", ha="center", va="center",
         fontsize=11, rotation=90)

fig.savefig("out.png", dpi=192, facecolor="white")
